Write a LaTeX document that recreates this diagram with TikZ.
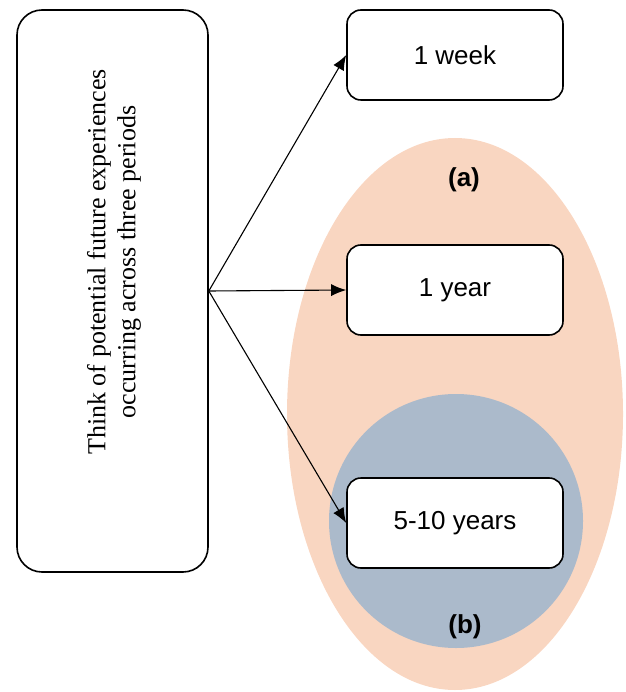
\documentclass[tikz,border=0pt]{standalone}
\usepackage{fontspec}
\setmainfont{Liberation Serif}
\setsansfont{Liberation Sans}
\usetikzlibrary{arrows.meta}
\usetikzlibrary{positioning}
\definecolor{peach}{HTML}{F9D6C1}
\definecolor{slate}{HTML}{ABBACB}
\tikzset{
	period/.style={draw,line width=1.6pt,rounded corners=14pt,fill=white,
		minimum width=216pt,minimum height=90pt,
		font=\sffamily\fontsize{26}{30}\selectfont},
	tag/.style={font=\sffamily\bfseries\fontsize{26}{30}\selectfont},
	link/.style={line width=1.1pt,-{Latex[length=15pt,width=12pt]}}
}

\begin{document}
\begin{tikzpicture}[x=1pt,y=-1pt]
		\useasboundingbox (0,0) rectangle (625,692);
		\fill[peach] (455,414) ellipse [x radius=168, y radius=276];
		\fill[slate] (456,521) circle (127);
		\node[draw,line width=1.6pt,rounded corners=25pt,minimum width=191pt,minimum height=562pt](think) at (112.5,291) {};
		\node[rotate=90,align=center,font=\fontsize{26}{30}\selectfont](thinktext) at (114,262) {Think of potential future experiences\\occurring across three periods};
		\node[period](week) at (455,55) {1 week};
		\node[period](year) at (455,290) {1 year};
		\node[period](decade) at (455,523) {5-10 years};
		\node[tag](a) at (464,180) {(a)};
		\node[tag](b) at (465,627) {(b)};
		\coordinate (fork) at (think.east);
		\draw[link] (fork) -- (week.west);
		\draw[link] (fork) -- (year.west);
		\draw[link] (fork) -- (decade.west);
	\end{tikzpicture}
\end{document}
